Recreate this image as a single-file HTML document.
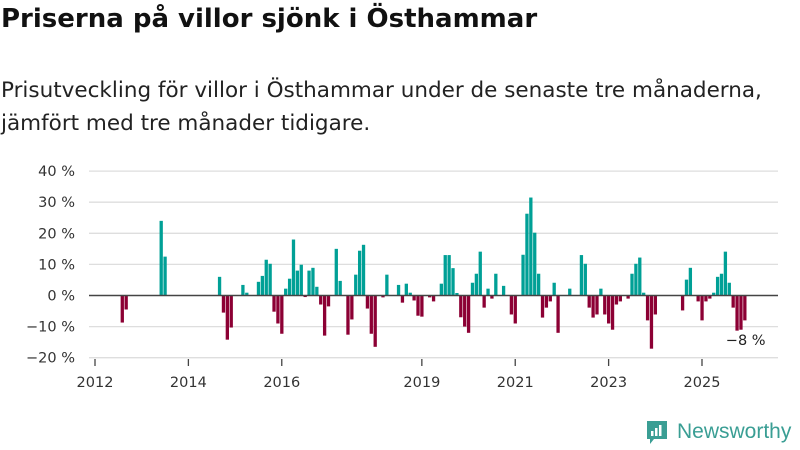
<!DOCTYPE html>
<html><head><meta charset="utf-8">
<style>
html,body{margin:0;padding:0;background:#fff;}
body{width:800px;height:450px;overflow:hidden;position:relative;font-family:"DejaVu Sans","Liberation Sans",sans-serif;color:#111;}
#title{position:absolute;left:1px;top:4px;font-size:26px;font-weight:bold;margin:0;letter-spacing:0px;white-space:nowrap;}
#sub{position:absolute;left:1px;top:74px;font-size:21.5px;line-height:33px;color:#222;margin:0;white-space:nowrap;letter-spacing:0px;}
svg{position:absolute;left:0;top:0;}
</style></head><body>
<h1 id="title">Priserna på villor sjönk i Östhammar</h1>
<p id="sub">Prisutveckling för villor i Östhammar under de senaste tre månaderna,<br>jämfört med tre månader tidigare.</p>
<svg id="chart" width="800" height="450"></svg>
<script>
const startYear = 2012;
const values = [
 0,0,0,0,0,0,0,-8.7,-4.5,0,0,0,
 0,0,0,0,0,24,12.5,0,0,0,0,0,
 0,0,0,0,0,0,0,0,6,-5.5,-14.2,-10.3,
 0,0,3.4,0.9,0,0,4.4,6.3,11.5,10.2,-5.2,-9,
 -12.3,2.2,5.4,18,8,9.9,-0.5,8,8.9,2.8,-2.9,-12.9,
 -3.5,0,15,4.7,0,-12.6,-7.7,6.7,14.4,16.3,-4.2,-12.3,
 -16.5,0,-0.6,6.7,0,0,3.4,-2.3,3.8,0.9,-1.6,-6.5,
 -6.8,0,-0.6,-1.9,0,3.8,13,13,8.8,0.8,-7,-10,
 -12,4.1,7,14.1,-3.9,2.2,-1,7,0,3.1,0,-6.1,
 -9,0,13.1,26.3,31.5,20.2,7,-7.1,-3.9,-1.9,4.1,-12,
 0,0,2.2,0,0,13,10.2,-3.9,-7.1,-6.1,2.2,-6.1,
 -9,-11,-2.9,-1.9,0,-1,7,10.2,12.2,0.9,-8,-17.1,
 -6.1,0,0,0,0,0,0,-4.8,5.1,8.9,0,-1.9,
 -8,-1.9,-1,0.9,6,7,14.1,4.1,-3.9,-11.3,-11,-8
];
const yTicks = [40,30,20,10,0,-10,-20];
const yTickLabels = ["40 %","30 %","20 %","10 %","0 %","−10 %","−20 %"];
const xTickYears = [2012,2014,2016,2019,2021,2023,2025];
const lastLabel = "−8 %";

const svg = document.getElementById('chart');
const NS = 'http://www.w3.org/2000/svg';
const X0 = 95, PXM = 3.891, Y0 = 295.5, PXU = 3.11;
const FONT = 'DejaVu Sans, Liberation Sans, sans-serif';
function xScale(m){ return X0 + m*PXM; }
function yScale(v){ return Y0 - v*PXU; }
function mk(tag, attrs){ const e=document.createElementNS(NS,tag); for(const k in attrs) e.setAttribute(k,attrs[k]); svg.appendChild(e); return e; }

yTicks.forEach((t,i)=>{
  if(t!==0){
    const g = mk('line',{x1:89,x2:778,y1:yScale(t),y2:yScale(t),stroke:'#dedede','stroke-width':1.3});
    
    
  }
  const tx = mk('text',{x:75,y:yScale(t)+5,'text-anchor':'end','font-size':14.5,fill:'#333','font-family':FONT});
  tx.textContent = yTickLabels[i];
  
  
});

values.forEach((v,m)=>{
  if(v===0) return;
  const y = yScale(Math.max(v,0)), h = Math.abs(v)*PXU;
  const r = mk('rect',{x:xScale(m)-1.6,y:y,width:3.3,height:h,fill: v>0?'#00a096':'#8c0034'});
  
  
});

const zl = mk('line',{x1:89,x2:778,y1:Y0,y2:Y0,stroke:'#444','stroke-width':1.6});



xTickYears.forEach(yr=>{
  const x = xScale((yr-startYear)*12);
  const tk = mk('line',{x1:x,x2:x,y1:359,y2:366,stroke:'#444','stroke-width':1.3});
  
  
  const tx = mk('text',{x:x,y:387,'text-anchor':'middle','font-size':14.5,fill:'#333','font-family':FONT});
  tx.textContent = yr;
  
  
});

const lastM = values.length-1;
const lb = mk('text',{x:xScale(lastM)-19,y:345,'font-size':14.5,fill:'#222','font-family':FONT});
lb.textContent = lastLabel;


</script>
<div style="position:absolute;left:645px;top:419px;height:26px;display:flex;align-items:center;">
  <svg width="24" height="26" style="position:static">
    <path d="M2 2 h20 v18 h-13 l-4 5 v-5 h-3 z" fill="#3a9e94"/>
    <rect x="6" y="12" width="2.5" height="5" fill="#fff"/><rect x="10" y="9" width="2.5" height="8" fill="#fff"/><rect x="14" y="6" width="2.5" height="11" fill="#fff"/>
  </svg>
  <span style="font-size:21px;color:#3a9e94;margin-left:8px;font-family:'Liberation Sans',sans-serif;">Newsworthy</span>
</div>
</body></html>
